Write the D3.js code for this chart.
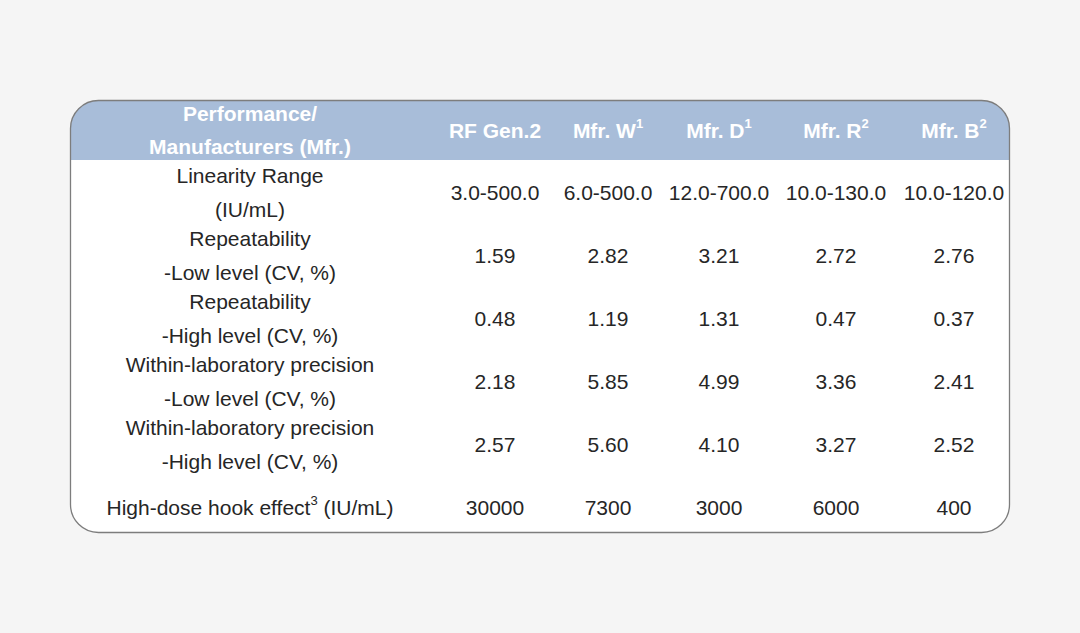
<!DOCTYPE html>
<html><head><meta charset="utf-8">
<script src="https://cdn.jsdelivr.net/npm/d3@7"></script>
<style>html,body{margin:0;padding:0;background:#f5f5f5;}svg{display:block;}</style>
</head><body>
<svg id="c" width="1080" height="633"></svg>
<script>
const columns = ["RF Gen.2", "Mfr. W", "Mfr. D", "Mfr. R", "Mfr. B"];
const columnSup = ["", "1", "1", "2", "2"];
const headerLines = ["Performance/", "Manufacturers (Mfr.)"];
const rowLabels = [
  ["Linearity Range", "(IU/mL)"],
  ["Repeatability", "-Low level (CV, %)"],
  ["Repeatability", "-High level (CV, %)"],
  ["Within-laboratory precision", "-Low level (CV, %)"],
  ["Within-laboratory precision", "-High level (CV, %)"],
  ["High-dose hook effect|3| (IU/mL)"]
];
const linearity = ["3.0-500.0", "6.0-500.0", "12.0-700.0", "10.0-130.0", "10.0-120.0"];
const repLow = ["1.59", "2.82", "3.21", "2.72", "2.76"];
const repHigh = ["0.48", "1.19", "1.31", "0.47", "0.37"];
const wlpLow = ["2.18", "5.85", "4.99", "3.36", "2.41"];
const wlpHigh = ["2.57", "5.60", "4.10", "3.27", "2.52"];
const hook = ["30000", "7300", "3000", "6000", "400"];
const rowValues = [linearity, repLow, repHigh, wlpLow, wlpHigh, hook];

const svg = d3.select("#c");
const font = "'Liberation Sans', Arial, sans-serif";
const L = 70.5, R = 1009.5, T = 100.5, B = 532.5, rad = 28, headerB = 160;

const defs = svg.append("defs");
defs.append("clipPath").attr("id", "tbl").append("rect")
  .attr("x", L).attr("y", T).attr("width", R - L).attr("height", B - T).attr("rx", rad).attr("ry", rad);

const g = svg.append("g");
g.append("rect").attr("x", L).attr("y", T).attr("width", R - L).attr("height", B - T)
  .attr("rx", rad).attr("ry", rad).attr("fill", "#ffffff");
g.append("rect").attr("clip-path", "url(#tbl)").attr("x", L).attr("y", T)
  .attr("width", R - L).attr("height", headerB - T).attr("fill", "#a8bdd9");
g.append("rect").attr("x", L).attr("y", T).attr("width", R - L).attr("height", B - T)
  .attr("rx", rad).attr("ry", rad).attr("fill", "none").attr("stroke", "#7d7d7d").attr("stroke-width", 1.3);

const x = d3.scaleOrdinal().domain(columns).range([495, 608, 719, 836, 954]);
const labelX = 250;
const y = d3.scaleLinear().domain([0, rowLabels.length - 1]).range([192, 507]);
const lineGap = 16.8;

function addText(sel, str) {
  const parts = str.split("|");
  parts.forEach((p, i) => {
    if (!p) return;
    if (i % 2 === 1) {
      sel.append("tspan").attr("font-size", "0.62em").attr("dy", "-0.5em").text(p);
    } else {
      const t = sel.append("tspan").text(p);
      if (i > 0) t.attr("dy", "0.31em");
    }
  });
}

// header
const hdr = g.append("g").attr("font-family", font).attr("font-weight", "bold")
  .attr("font-size", 21).attr("fill", "#ffffff").attr("text-anchor", "middle");
headerLines.forEach((ln, i) => {
  hdr.append("text").attr("x", labelX).attr("y", 130 + (i - 0.5) * 2 * 16.5)
    .attr("dominant-baseline", "central").text(ln);
});
columns.forEach((c, i) => {
  const t = hdr.append("text").attr("x", x(c)).attr("y", 130).attr("dominant-baseline", "central");
  addText(t, columnSup[i] ? c + "|" + columnSup[i] + "|" : c);
});

// body
const body = g.append("g").attr("font-family", font).attr("font-size", 21)
  .attr("fill", "#262626").attr("text-anchor", "middle");
rowLabels.forEach((lines, r) => {
  lines.forEach((ln, k) => {
    const off = lines.length === 1 ? 0 : (k - 0.5) * 2 * lineGap;
    const t = body.append("text").attr("x", labelX).attr("y", y(r) + off).attr("dominant-baseline", "central");
    addText(t, ln);
  });
  rowValues[r].forEach((v, ci) => {
    body.append("text").attr("x", x(columns[ci])).attr("y", y(r)).attr("dominant-baseline", "central").text(v);
  });
});
</script>
</body></html>
